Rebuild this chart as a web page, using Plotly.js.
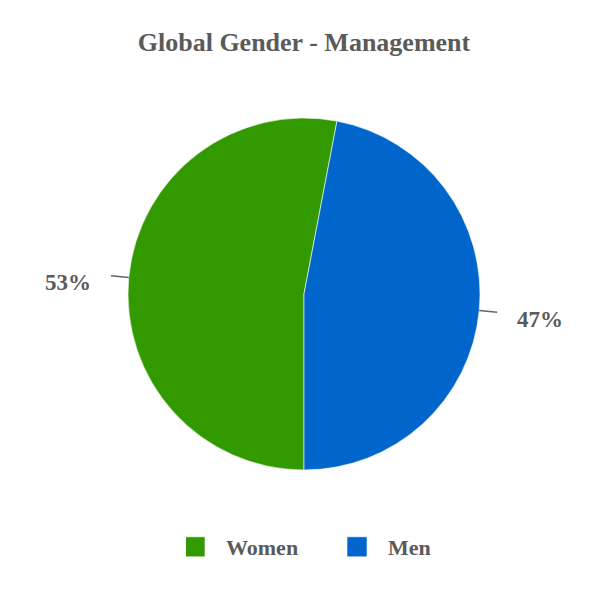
<!DOCTYPE html>
<html>
<head>
<meta charset="utf-8">
<script src="https://cdn.plot.ly/plotly-3.0.1.min.js"></script>
<style>html,body{margin:0;padding:0;background:#fff;}#chart{width:608px;height:600px;}</style>
</head>
<body>
<div id="chart"></div>
<script>
const categories = ['Women', 'Men'];
const shares = [53, 47];
const colors = ['#339900', '#0066CC'];
const textLabels = ['53%', '47%'];

const W = 608, H = 600;
const M = {l: 0, r: 0, t: 118, b: 130};
const rotation = 180;
const gray = '#5a5a5a';
const serif = 'Liberation Serif';

// pie geometry (derived from layout)
const plotH = H - M.t - M.b, plotW = W - M.l - M.r;
const R = Math.min(plotH, plotW) / 2;
const cx = M.l + plotW / 2, cy = M.t + plotH / 2;
const toPX = x => (x - M.l) / plotW;
const toPY = y => (M.t + plotH - y) / plotH;

const total = shares.reduce((a, b) => a + b, 0);
let cum = 0;
const shapes = [], annotations = [];
shares.forEach((v, i) => {
  const mid = (rotation + (cum + v / 2) / total * 360) * Math.PI / 180;
  cum += v;
  const s = Math.sin(mid), c = Math.cos(mid);
  const x0 = cx + R * s, y0 = cy - R * c;
  const x1 = cx + (R + 18) * s, y1 = cy - (R + 18) * c;
  shapes.push({type: 'line', xref: 'paper', yref: 'paper',
    x0: toPX(x0), y0: toPY(y0), x1: toPX(x1), y1: toPY(y1),
    line: {color: '#666666', width: 1.5}});
  const right = s >= 0;
  annotations.push({xref: 'paper', yref: 'paper', showarrow: false,
    x: toPX(x1 + (right ? 18 : -18)), y: toPY(y1 + 7),
    xanchor: right ? 'left' : 'right', yanchor: 'middle',
    text: textLabels[i],
    font: {family: serif, size: 23, color: gray, weight: 'bold'}});
});

const data = [{
  type: 'pie',
  labels: categories,
  values: shares,
  sort: false,
  direction: 'clockwise',
  rotation: rotation,
  textinfo: 'none',
  marker: {colors: colors, line: {color: '#ffffff', width: 0.6}},
  hoverinfo: 'label+percent'
}];

const layout = {
  width: W, height: H,
  margin: M,
  paper_bgcolor: '#ffffff',
  font: {family: serif},
  title: {text: 'Global Gender - Management', x: 0.5, xanchor: 'center',
    y: 1 - 42 / H, yanchor: 'middle', yref: 'container',
    font: {family: serif, size: 26, color: gray, weight: 'bold'}},
  showlegend: true,
  legend: {orientation: 'h', xref: 'container', yref: 'container',
    x: 186 / W, xanchor: 'left', y: 1 - 547 / H, yanchor: 'middle',
    entrywidth: 117, entrywidthmode: 'pixels',
    font: {family: serif, size: 22, color: gray, weight: 'bold'}},
  shapes: shapes,
  annotations: annotations
};

Plotly.newPlot('chart', data, layout, {displayModeBar: false, staticPlot: true}).then(() => {
  document.querySelectorAll('.legend .legendpoints path').forEach(p => {
    p.setAttribute('d', 'M-1,10H-21V-10H-1Z');
  });
});
</script>
</body>
</html>
